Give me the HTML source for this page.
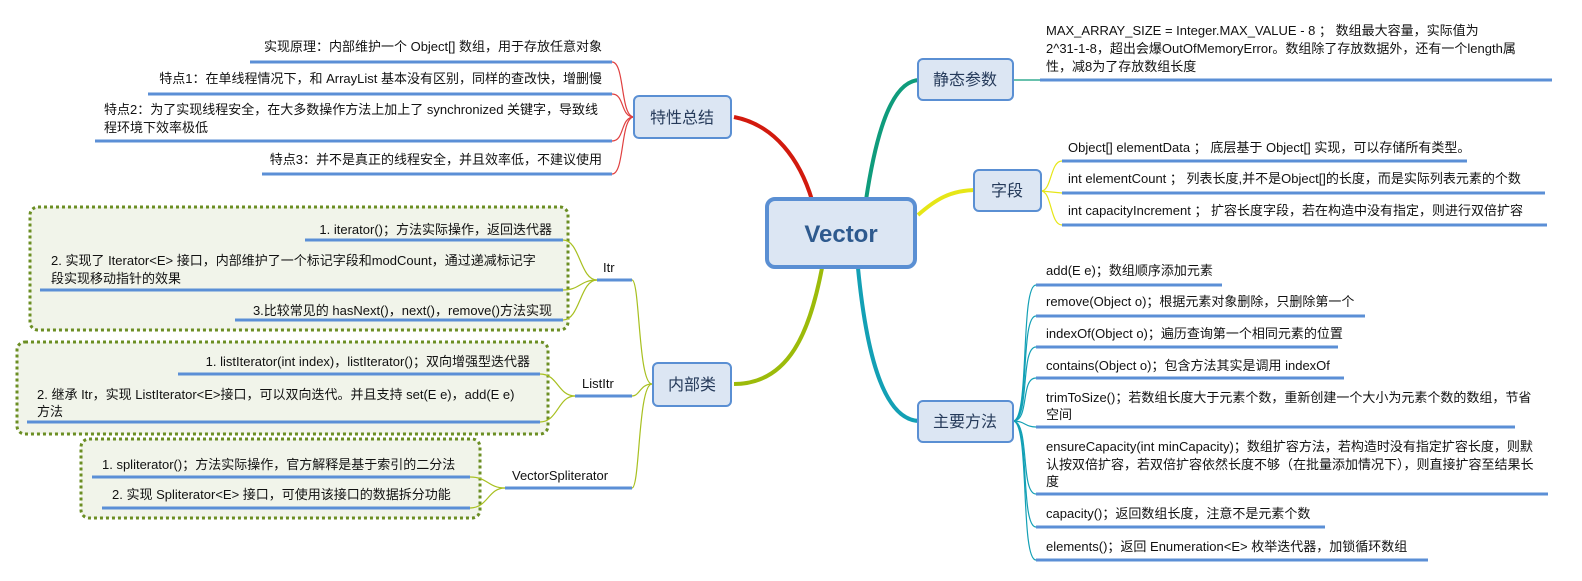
<!DOCTYPE html>
<html><head><meta charset="utf-8"><style>
html,body{margin:0;padding:0;background:#fff;}
svg{display:block;}
text{font-family:"Liberation Sans","Noto Sans CJK SC",sans-serif;font-size:13px;fill:#111;}
.b{fill:#dce6f3;stroke:#5a8fd3;stroke-width:2;}
.t{font-size:16px;fill:#253a5a;}
.ul{stroke:#5b8fd6;stroke-width:3;}
</style></head><body>
<svg width="1582" height="581" viewBox="0 0 1582 581" xmlns="http://www.w3.org/2000/svg">
<path d="M812 200 C800 160,775 125,734 117" stroke="#d21a0e" stroke-width="4" fill="none"/>
<path d="M866 200 C875 140,890 80,920 80" stroke="#0f9c7c" stroke-width="4" fill="none"/>
<path d="M918 215 C935 200,950 190,977 190" stroke="#e6e617" stroke-width="4" fill="none"/>
<path d="M858 268 C865 340,880 421,920 421" stroke="#13a0b5" stroke-width="4" fill="none"/>
<path d="M822 268 C810 330,790 384,734 384" stroke="#9cbb0a" stroke-width="4" fill="none"/>
<g stroke="#e04040" stroke-width="1.2" fill="none">
<path d="M634 117 C620 117,625 62,612 62"/><path d="M634 117 C620 117,625 94,612 94"/>
<path d="M634 117 C620 117,625 141,612 141"/><path d="M634 117 C620 117,625 174,612 174"/>
</g>
<line class="ul" x1="250" y1="62" x2="612" y2="62"/>
<line class="ul" x1="148" y1="94" x2="612" y2="94"/>
<line class="ul" x1="95" y1="141" x2="612" y2="141"/>
<line class="ul" x1="262" y1="174" x2="612" y2="174"/>
<text x="602" y="51" text-anchor="end">实现原理：内部维护一个 Object[] 数组，用于存放任意对象</text>
<text x="602" y="83" text-anchor="end">特点1：在单线程情况下，和 ArrayList 基本没有区别，同样的查改快，增删慢</text>
<text x="104" y="114">特点2：为了实现线程安全，在大多数操作方法上加上了 synchronized 关键字，导致线</text>
<text x="104" y="132">程环境下效率极低</text>
<text x="602" y="164" text-anchor="end">特点3：并不是真正的线程安全，并且效率低，不建议使用</text>
<rect class="b" x="634" y="96" width="97" height="42" rx="5"/>
<text class="t" x="682" y="123" text-anchor="middle">特性总结</text>
<rect x="30" y="207" width="538" height="123" rx="8" fill="#f1f4ea" stroke="#6b8e23" stroke-width="3" stroke-dasharray="3,3"/>
<rect x="17" y="342" width="531" height="92" rx="8" fill="#f1f4ea" stroke="#6b8e23" stroke-width="3" stroke-dasharray="3,3"/>
<rect x="81" y="439" width="399" height="79" rx="8" fill="#f1f4ea" stroke="#6b8e23" stroke-width="3" stroke-dasharray="3,3"/>
<g stroke="#a8c020" stroke-width="1.2" fill="none">
<path d="M597 280 C580 280,580 240,563 240"/><path d="M597 280 C580 280,580 290,563 290"/><path d="M597 280 C580 280,580 320,563 320"/>
<path d="M575 396 C558 396,558 374,540 374"/><path d="M575 396 C558 396,558 422,540 422"/>
<path d="M505 488 C488 488,488 477,470 477"/><path d="M505 488 C488 488,488 508,470 508"/>
<path d="M652 384 C638 384,640 280,632 280"/><path d="M652 384 C640 384,640 396,632 396"/><path d="M652 384 C638 384,640 488,632 488"/>
</g>
<line class="ul" x1="305" y1="240" x2="563" y2="240"/>
<line class="ul" x1="40" y1="290" x2="563" y2="290"/>
<line class="ul" x1="235" y1="320" x2="563" y2="320"/>
<line class="ul" x1="597" y1="280" x2="632" y2="280"/>
<text x="552" y="234" text-anchor="end">1. iterator()；方法实际操作，返回迭代器</text>
<text x="51" y="265">2. 实现了 Iterator&lt;E&gt; 接口，内部维护了一个标记字段和modCount，通过递减标记字</text>
<text x="51" y="283">段实现移动指针的效果</text>
<text x="552" y="315" text-anchor="end">3.比较常见的 hasNext()，next()，remove()方法实现</text>
<text x="603" y="272">Itr</text>
<line class="ul" x1="178" y1="374" x2="540" y2="374"/>
<line class="ul" x1="27" y1="422" x2="540" y2="422"/>
<line class="ul" x1="575" y1="396" x2="632" y2="396"/>
<text x="530" y="366" text-anchor="end">1. listIterator(int index)，listIterator()；双向增强型迭代器</text>
<text x="37" y="399">2. 继承 Itr，实现 ListIterator&lt;E&gt;接口，可以双向迭代。并且支持 set(E e)，add(E e)</text>
<text x="37" y="416">方法</text>
<text x="582" y="388">ListItr</text>
<line class="ul" x1="92" y1="477" x2="470" y2="477"/>
<line class="ul" x1="102" y1="508" x2="470" y2="508"/>
<line class="ul" x1="505" y1="488" x2="632" y2="488"/>
<text x="102" y="469">1. spliterator()；方法实际操作，官方解释是基于索引的二分法</text>
<text x="112" y="499">2. 实现 Spliterator&lt;E&gt; 接口，可使用该接口的数据拆分功能</text>
<text x="512" y="480">VectorSpliterator</text>
<rect class="b" x="653" y="363" width="78" height="43" rx="5"/>
<text class="t" x="692" y="390" text-anchor="middle">内部类</text>
<rect x="767" y="199" width="148" height="68" rx="8" fill="#dce6f3" stroke="#5a8fd3" stroke-width="4"/>
<text x="841" y="242" text-anchor="middle" style="font-size:24px;font-weight:bold;fill:#2e5a8e">Vector</text>
<line x1="1012" y1="80" x2="1040" y2="80" stroke="#0f9c7c" stroke-width="1.2"/>
<line class="ul" x1="1040" y1="80" x2="1552" y2="80"/>
<text x="1046" y="35">MAX_ARRAY_SIZE = Integer.MAX_VALUE - 8 ； 数组最大容量，实际值为</text>
<text x="1046" y="53">2^31-1-8，超出会爆OutOfMemoryError。数组除了存放数据外，还有一个length属</text>
<text x="1046" y="71">性，减8为了存放数组长度</text>
<rect class="b" x="918" y="59" width="95" height="41" rx="5"/>
<text class="t" x="965" y="85" text-anchor="middle">静态参数</text>
<g stroke="#e6e617" stroke-width="1.2" fill="none">
<path d="M1041 191 C1052 191,1050 161,1062 161"/><path d="M1041 191 L1062 193"/><path d="M1041 191 C1052 191,1050 225,1062 225"/>
</g>
<line class="ul" x1="1062" y1="161" x2="1467" y2="161"/>
<line class="ul" x1="1062" y1="193" x2="1545" y2="193"/>
<line class="ul" x1="1062" y1="225" x2="1547" y2="225"/>
<text x="1068" y="152">Object[] elementData ； 底层基于 Object[] 实现，可以存储所有类型。</text>
<text x="1068" y="183">int elementCount ； 列表长度,并不是Object[]的长度，而是实际列表元素的个数</text>
<text x="1068" y="215">int capacityIncrement ； 扩容长度字段，若在构造中没有指定，则进行双倍扩容</text>
<rect class="b" x="974" y="170" width="67" height="41" rx="5"/>
<text class="t" x="1007" y="196" text-anchor="middle">字段</text>
<g stroke="#13a0b5" stroke-width="1.2" fill="none">
<path d="M1013 421 C1030 421,1020 285,1036 285"/><path d="M1013 421 C1030 421,1020 316,1036 316"/>
<path d="M1013 421 C1030 421,1020 347,1036 347"/><path d="M1013 421 C1030 421,1020 378,1036 378"/>
<path d="M1013 421 C1025 421,1025 427,1036 427"/><path d="M1013 421 C1030 421,1020 494,1036 494"/>
<path d="M1013 421 C1030 421,1020 527,1036 527"/><path d="M1013 421 C1030 421,1020 560,1036 560"/>
</g>
<line class="ul" x1="1036" y1="285" x2="1222" y2="285"/>
<line class="ul" x1="1036" y1="316" x2="1365" y2="316"/>
<line class="ul" x1="1036" y1="347" x2="1338" y2="347"/>
<line class="ul" x1="1036" y1="378" x2="1344" y2="378"/>
<line class="ul" x1="1036" y1="427" x2="1515" y2="427"/>
<line class="ul" x1="1036" y1="494" x2="1548" y2="494"/>
<line class="ul" x1="1036" y1="527" x2="1325" y2="527"/>
<line class="ul" x1="1036" y1="560" x2="1428" y2="560"/>
<text x="1046" y="275">add(E e)；数组顺序添加元素</text>
<text x="1046" y="306">remove(Object o)；根据元素对象删除，只删除第一个</text>
<text x="1046" y="338">indexOf(Object o)；遍历查询第一个相同元素的位置</text>
<text x="1046" y="370">contains(Object o)；包含方法其实是调用 indexOf</text>
<text x="1046" y="402">trimToSize()；若数组长度大于元素个数，重新创建一个大小为元素个数的数组，节省</text>
<text x="1046" y="419">空间</text>
<text x="1046" y="451">ensureCapacity(int minCapacity)；数组扩容方法，若构造时没有指定扩容长度，则默</text>
<text x="1046" y="469">认按双倍扩容，若双倍扩容依然长度不够（在批量添加情况下），则直接扩容至结果长</text>
<text x="1046" y="486">度</text>
<text x="1046" y="518">capacity()；返回数组长度，注意不是元素个数</text>
<text x="1046" y="551">elements()；返回 Enumeration&lt;E&gt; 枚举迭代器，加锁循环数组</text>
<rect class="b" x="918" y="401" width="95" height="41" rx="5"/>
<text class="t" x="965" y="427" text-anchor="middle">主要方法</text>
</svg>
</body></html>
